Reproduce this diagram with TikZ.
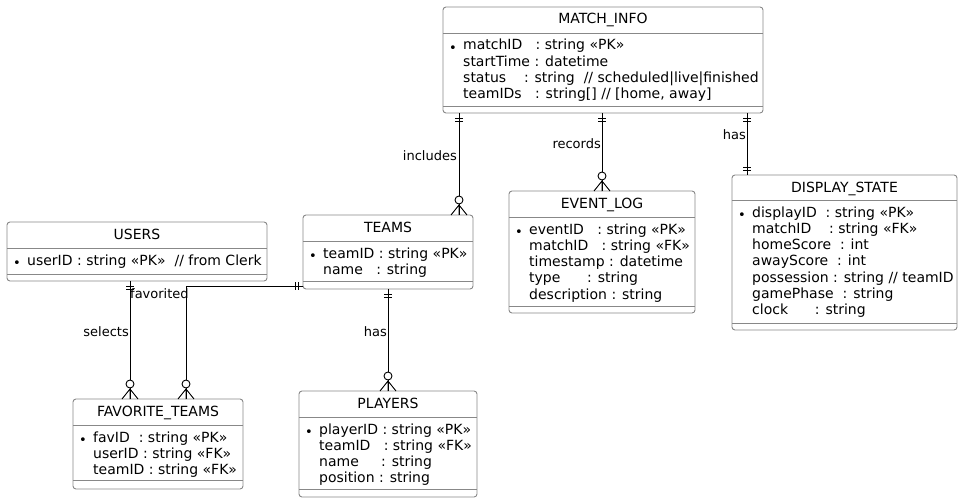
\documentclass[tikz,border=0pt]{standalone}
\usepackage{fontspec}
\setmainfont{DejaVu Sans}
\definecolor{boxgray}{RGB}{136,136,136}
\tikzset{
  ebox/.style={draw=boxgray, fill=white, rounded corners=3, line width=0.9, inner sep=0, outer sep=0},
  divline/.style={draw=boxgray, line width=0.9},
  etitle/.style={font=\fontsize{14}{16.3}\selectfont, anchor=base, inner sep=0},
  eattr/.style={font=\fontsize{14}{16.3}\selectfont, anchor=base west, inner sep=0},
  ebullet/.style={font=\fontsize{13}{15}\selectfont, anchor=base west, inner sep=0},
  conn/.style={draw=black, line width=0.9},
  rlabel/.style={font=\fontsize{13}{15}\selectfont, inner sep=0},
}
% #1 name, #2 x1, #3 y1, #4 x2, #5 y2, #6 title, #7 title divider y, #8 bottom divider y, #9 attributes
\newcommand\entity[9]{%
  \node[ebox, minimum width=#4-#2, minimum height=#5-#3] (#1) at ({(#2+#4)/2},{(#3+#5)/2}) {};
  \node[etitle] (#1-t) at ({(#2+#4)/2},#3+17) {#6};
  \draw[divline] (#2,#7) -- (#4,#7);
  \draw[divline] (#2,#8) -- (#4,#8);
  \node[ebullet] (#1-b) at (#2+6,#7+19.5) {•};
  \foreach \t [count=\i] in {#9} {
    \node[eattr] (#1-a\i) at (#2+20,{#7+17+16.3*(\i-1)}) {\t};
  }
}
\newcommand\barsdown[1]{\begin{scope}[shift={(#1)}]\draw[conn] (-4,5)--(4,5) (-4,8)--(4,8);\end{scope}}
\newcommand\barsup[1]{\begin{scope}[shift={(#1)}]\draw[conn] (-4,-5)--(4,-5) (-4,-8)--(4,-8);\end{scope}}
\newcommand\barsleft[1]{\begin{scope}[shift={(#1)}]\draw[conn] (-5,-4)--(-5,4) (-8,-4)--(-8,4);\end{scope}}
\newcommand\crowup[1]{\begin{scope}[shift={(#1)}]\draw[conn] (-8,0)--(0,-10)--(8,0) (0,-10)--(0,0);
  \draw[conn, fill=white] (0,-15) circle[radius=4];\end{scope}}
\begin{document}
\begin{tikzpicture}[x=1pt, y=-1pt]
\useasboundingbox (0,0) rectangle (963,503);

\entity{match}{443}{7}{763}{113}{MATCH\_INFO}{33}{106}{%
  {matchID\ \ \ : string «PK»},
  {startTime : datetime},
  {status\ \ \ \ : string\ \ // scheduled|live|finished},
  {teamIDs\ \ \ : string[] // [home, away]}}

\entity{users}{7}{222}{267}{281}{USERS}{248}{274}{%
  {userID : string «PK»\ \ // from Clerk}}

\entity{teams}{303}{215}{473}{289}{TEAMS}{241}{281}{%
  {teamID : string «PK»},
  {name\ \ \ : string}}

\entity{players}{299}{391}{477}{497}{PLAYERS}{417}{489}{%
  {playerID : string «PK»},
  {teamID\ \ \ : string «FK»},
  {name\ \ \ \ \ : string},
  {position : string}}

\entity{events}{509}{191}{695}{313}{EVENT\_LOG}{217}{306}{%
  {eventID\ \ \ : string «PK»},
  {matchID\ \ \ : string «FK»},
  {timestamp : datetime},
  {type\ \ \ \ \ \ : string},
  {description : string}}

\entity{display}{732}{175}{957}{330}{DISPLAY\_STATE}{200}{323}{%
  {displayID\ \ : string «PK»},
  {matchID\ \ \ \ : string «FK»},
  {homeScore\ \ : int},
  {awayScore\ \ : int},
  {possession : string // teamID},
  {gamePhase\ \ : string},
  {clock\ \ \ \ \ \ : string}}

\entity{fav}{73}{399}{243}{489}{FAVORITE\_TEAMS}{425}{480}{%
  {favID\ \ : string «PK»},
  {userID : string «FK»},
  {teamID : string «FK»}}

% connector columns / rows
\coordinate (cinc) at (459,0);
\coordinate (crec) at (602,0);
\coordinate (chas) at (747,0);
\coordinate (csel) at (130,0);
\coordinate (cfavx) at (186,0);
\coordinate (cfavy) at (0,286);
\coordinate (cply) at (388,0);
\coordinate (cfavc) at (cfavx |- cfavy);

% MATCH_INFO -> TEAMS
\draw[conn] (match.south -| cinc) -- (teams.north -| cinc);
\barsdown{match.south -| cinc}
\crowup{teams.north -| cinc}
\node[rlabel, anchor=east] (lbinc) at (457,156) {includes};

% MATCH_INFO -> EVENT_LOG
\draw[conn] (match.south -| crec) -- (events.north -| crec);
\barsdown{match.south -| crec}
\crowup{events.north -| crec}
\node[rlabel, anchor=east] (lbrec) at (601,144) {records};

% MATCH_INFO -> DISPLAY_STATE
\draw[conn] (match.south -| chas) -- (display.north -| chas);
\barsdown{match.south -| chas}
\barsup{display.north -| chas}
\node[rlabel, anchor=east] (lbhas) at (746,135) {has};

% USERS -> FAVORITE_TEAMS
\draw[conn] (users.south -| csel) -- (fav.north -| csel);
\barsdown{users.south -| csel}
\crowup{fav.north -| csel}
\node[rlabel, anchor=east] (lbsel) at (129,332) {selects};

% TEAMS -> FAVORITE_TEAMS
\draw[conn] (teams.west |- cfavy) -- (cfavc) -- (fav.north -| cfavx);
\barsleft{teams.west |- cfavy}
\crowup{fav.north -| cfavx}
\node[rlabel, anchor=west] (lbfav) at (130,294) {favorited};

% TEAMS -> PLAYERS
\draw[conn] (teams.south -| cply) -- (players.north -| cply);
\barsdown{teams.south -| cply}
\crowup{players.north -| cply}
\node[rlabel, anchor=east] (lbply) at (387,332) {has};
\end{tikzpicture}
\end{document}
